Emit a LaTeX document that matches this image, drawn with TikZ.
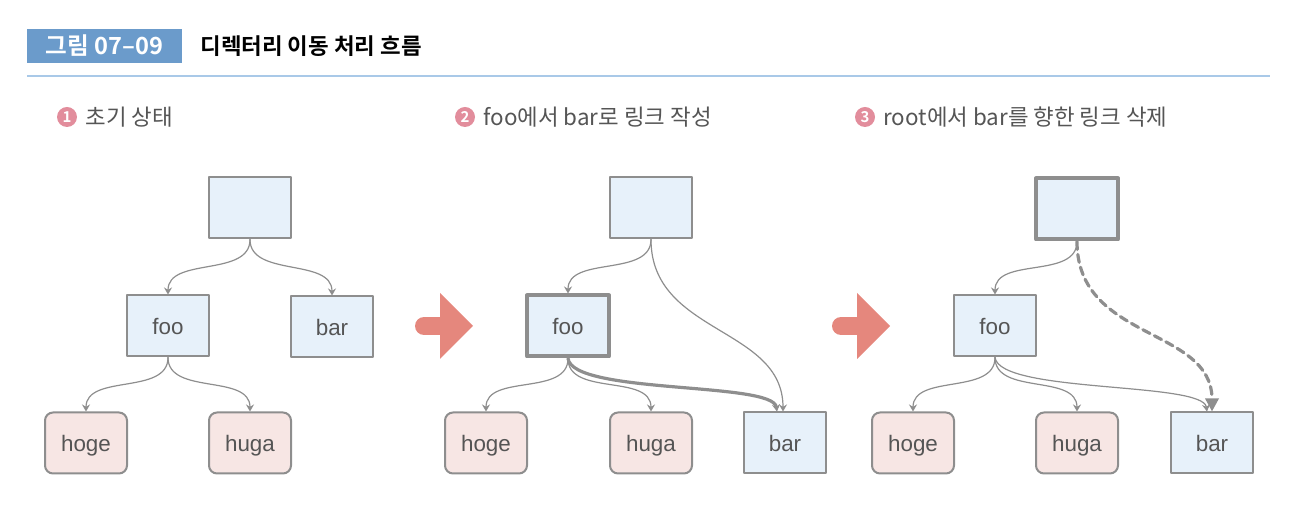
\documentclass[tikz,border=0pt]{standalone}
\usepackage{fontspec}
\setmainfont{Liberation Sans}
\newfontfamily\krfont{Noto Sans CJK KR}[BoldFont={Noto Sans CJK KR Bold}]
\usetikzlibrary{arrows.meta,positioning}

\definecolor{dirfill}{HTML}{E7F1FA}
\definecolor{filefill}{HTML}{F7E6E4}
\definecolor{edgegray}{HTML}{8E8E8E}
\definecolor{labelgray}{HTML}{555555}
\definecolor{headblue}{HTML}{6B9BCB}
\definecolor{ruleblue}{HTML}{A9C9E8}
\definecolor{numpink}{HTML}{E28D9C}
\definecolor{stepred}{HTML}{E5877D}

\tikzset{
  dirbox/.style={draw=edgegray,line width=1pt,fill=dirfill,minimum width=41pt,minimum height=30.5pt,inner sep=0pt,text height=9pt,text depth=0pt,text=labelgray,font=\fontsize{11.2}{13}\selectfont},
  filebox/.style={dirbox,fill=filefill,rounded corners=4pt},
  curdir/.style={line width=2pt},
  link/.style={draw=edgegray,line width=0.6pt,-{Stealth[length=3.5pt,width=4pt]}},
  newlink/.style={link,line width=1.6pt},
  droplink/.style={draw=edgegray,line width=1.6pt,dash pattern=on 4pt off 2.5pt,-{Triangle[length=6.5pt,width=6.5pt]}},
  stepnum/.style={circle,fill=numpink,text=white,inner sep=0pt,minimum size=10pt,font=\krfont\bfseries\fontsize{7.5}{8}\selectfont},
  steptitle/.style={anchor=west,inner sep=0pt,text=labelgray,font=\krfont\fontsize{11.2}{13}\selectfont}
}

\begin{document}
\begin{tikzpicture}[line cap=round,line join=round,x=0.5pt,y=-0.5pt]
  \useasboundingbox (0,0) rectangle (1308,512);

  % header
  \fill[headblue] (27,29) rectangle (182,63);
  \node[text=white,font=\krfont\bfseries\fontsize{11.8}{13}\selectfont] (fignum) at (104.5,46) {그림 07–09};
  \node[anchor=west,inner sep=0pt,font=\krfont\bfseries\fontsize{11.2}{13}\selectfont] (figtitle) at (200,46) {디렉터리 이동 처리 흐름};
  \draw[ruleblue,line width=1.2pt,line cap=butt] (27,76) -- (1270,76);

  % step titles
  \node[stepnum] (n1) at (67,117) {1};
  \node[steptitle] (t1) at (85,117) {초기 상태};
  \node[stepnum] (n2) at (465,117) {2};
  \node[steptitle] (t2) at (483,117) {foo에서 bar로 링크 작성};
  \node[stepnum] (n3) at (865,117) {3};
  \node[steptitle] (t3) at (883,117) {root에서 bar를 향한 링크 삭제};

  % step arrows
  \foreach \ax in {415,832} {
    \draw[stepred,line width=9pt] (\ax+9,326) -- (\ax+28,326);
    \fill[stepred] (\ax+25,293) -- (\ax+58,326) -- (\ax+25,359) -- cycle;
  }

  % 1: initial state
  \node[dirbox] (rootA) at (250,208) {};
  \node[dirbox] (fooA) at (168,326) {foo};
  \node[dirbox] (barA) at (332,327) {bar};
  \node[filebox] (hogeA) at (86,443) {hoge};
  \node[filebox] (hugaA) at (250,443) {huga};
  \draw[link] (rootA.south) .. controls +(0,38) and +(0,-38) .. (fooA.north);
  \draw[link] (rootA.south) .. controls +(0,38) and +(0,-38) .. (barA.north);
  \draw[link] (fooA.south) .. controls +(0,38) and +(0,-38) .. (hogeA.north);
  \draw[link] (fooA.south) .. controls +(0,38) and +(0,-38) .. (hugaA.north);

  % 2: link from foo to bar
  \node[dirbox] (rootB) at (651,208) {};
  \node[dirbox,curdir] (fooB) at (568,326) {foo};
  \node[filebox] (hogeB) at (486,443) {hoge};
  \node[filebox] (hugaB) at (651,443) {huga};
  \node[dirbox] (barB) at (785,443) {bar};
  \draw[link] (rootB.south) .. controls +(0,38) and +(0,-38) .. (fooB.north);
  \draw[link] (rootB.south) .. controls +(0,95) and +(0,-85) .. ([xshift=-1pt]barB.north);
  \draw[link] (fooB.south) .. controls +(0,38) and +(0,-38) .. (hogeB.north);
  \draw[link] (fooB.south) .. controls +(0,38) and +(0,-38) .. (hugaB.north);
  \draw[newlink] (fooB.south) .. controls +(5,36) and +(-4,-30) .. ([xshift=-4pt]barB.north);

  % 3: remove link from root to bar
  \node[dirbox,curdir] (rootC) at (1077,209) {};
  \node[dirbox] (fooC) at (995,326) {foo};
  \node[filebox] (hogeC) at (913,443) {hoge};
  \node[filebox] (hugaC) at (1077,443) {huga};
  \node[dirbox] (barC) at (1212,443) {bar};
  \draw[link] (rootC.south) .. controls +(0,38) and +(0,-38) .. (fooC.north);
  \draw[link] (fooC.south) .. controls +(0,38) and +(0,-38) .. (hogeC.north);
  \draw[link] (fooC.south) .. controls +(0,38) and +(0,-38) .. (hugaC.north);
  \draw[link] (fooC.south) .. controls +(5,36) and +(-4,-30) .. ([xshift=-2.5pt]barC.north);
  \draw[droplink] (rootC.south) .. controls +(0,100) and +(0,-85) .. (barC.north);
\end{tikzpicture}
\end{document}
